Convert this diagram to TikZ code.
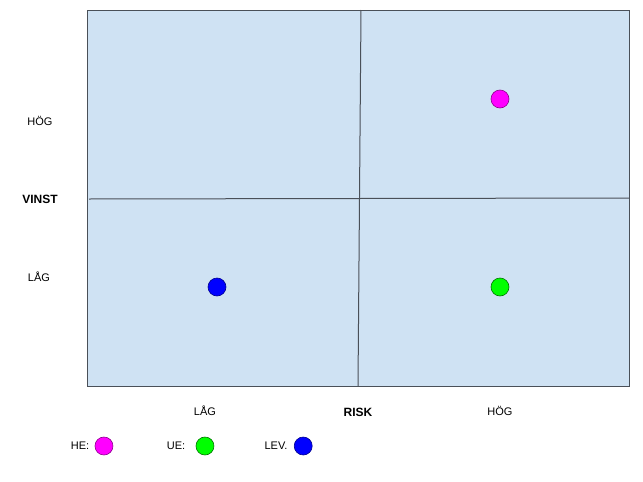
\documentclass[tikz,border=0pt]{standalone}
\usepackage{fontspec}
\setmainfont{Liberation Sans}
\usetikzlibrary{positioning}

\definecolor{gridblue}{HTML}{CFE2F3}
\definecolor{gridline}{HTML}{4A5058}
\definecolor{hecol}{HTML}{FF00FF}
\definecolor{uecol}{HTML}{00FF00}
\definecolor{levcol}{HTML}{0000FF}

\begin{document}
\begin{tikzpicture}[x=1pt, y=-1pt, every path/.style={line width=1pt},
    dot/.style={circle, minimum size=18pt, inner sep=0pt, line width=0.6pt},
    lbl/.style={font=\fontsize{11}{13}\selectfont, inner sep=0pt},
    axis/.style={font=\bfseries\fontsize{12}{14}\selectfont, inner sep=0pt}]
    \useasboundingbox (0,0) rectangle (643,482);

    % matrix field
    \draw[gridline, fill=gridblue] (87,10) rectangle (629,386);
    \coordinate (top)   at (361,10);
    \coordinate (bot)   at (358,386);
    \coordinate (left)  at (89,199);
    \coordinate (right) at (629,198);
    \draw[gridline] (top) -- (bot);
    \draw[gridline] (left) -- (right);

    % y axis
    \node[lbl]  (yhigh) at (40,121) {HÖG};
    \node[axis] (vinst) at (40,199) {VINST};
    \node[lbl]  (ylow)  at (39,277) {LÅG};

    % x axis
    \node[lbl]  (xlow)  at (205,411) {LÅG};
    \node[axis] (risk)  at (358,412) {RISK};
    \node[lbl]  (xhigh) at (500,411) {HÖG};

    % placements
    \node[dot, draw=hecol!55!black,  fill=hecol]  (he)  at (500,99)  {};
    \node[dot, draw=uecol!45!black,  fill=uecol]  (ue)  at (500,287) {};
    \node[dot, draw=levcol!55!black, fill=levcol] (lev) at (217,287) {};

    % legend
    \node[lbl] (helbl)  at (80,446)  {HE:};
    \node[dot, draw=hecol!55!black, fill=hecol, right=5pt of helbl] (hekey) {};
    \node[lbl] (uelbl)  at (176,446) {UE:};
    \node[dot, draw=uecol!45!black, fill=uecol, right=10pt of uelbl] (uekey) {};
    \node[lbl] (levlbl) at (276,446) {LEV.};
    \node[dot, draw=levcol!55!black, fill=levcol, right=6pt of levlbl] (levkey) {};
\end{tikzpicture}
\end{document}
